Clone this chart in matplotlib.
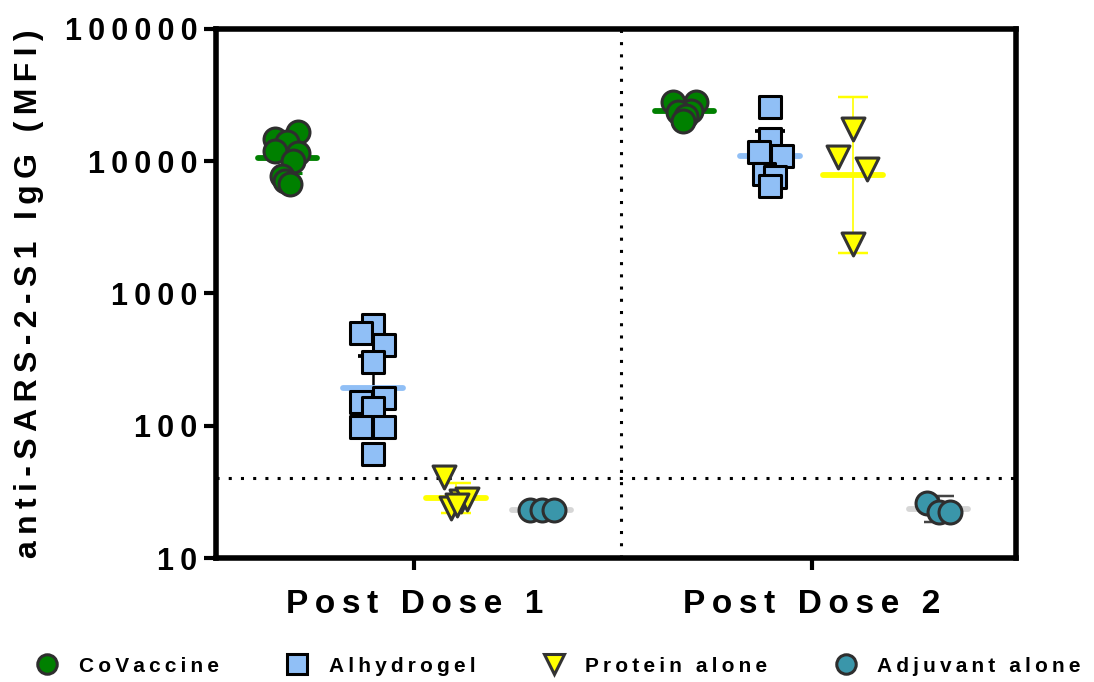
import numpy as np
import matplotlib
matplotlib.use('Agg')
import matplotlib.pyplot as plt
from matplotlib.lines import Line2D

# grupy i punkty czasowe
groups = ['CoVaccine', 'Alhydrogel', 'Protein alone', 'Adjuvant alone']
doses = ['Post Dose 1', 'Post Dose 2']
yticks = [10, 100, 1000, 10000, 100000]
lod = 40  # limit detekcji

# MFI dla poszczegolnych zwierzat
covaccine_d1 = [16600, 14700, 13900, 11900, 11500, 10000, 7700, 7050, 6700]
covaccine_d2 = [28000, 28000, 24000, 23500, 21900, 20000]
alhydrogel_d1 = [580, 505, 410, 305, 163, 152, 137, 98, 98, 61]
alhydrogel_d2 = [25600, 14700, 11700, 10900, 8000, 7570, 6470]
protein_d1 = [41, 24, 27, 28, 25]
protein_d2 = [17500, 10700, 8700, 2350]
adjuvant_d1 = [23, 23, 23]
adjuvant_d2 = [26, 22.3, 22.3]

data = {
    'CoVaccine': [covaccine_d1, covaccine_d2],
    'Alhydrogel': [alhydrogel_d1, alhydrogel_d2],
    'Protein alone': [protein_d1, protein_d2],
    'Adjuvant alone': [adjuvant_d1, adjuvant_d2],
}

# rozrzut punktow w poziomie (w pikselach), zeby sie nie nakladaly
jitter = {
    'CoVaccine': [[11, -12, 0, -12, 11, 6, -5, -2, 3], [-11, 12, 7, -6, 2, -1]],
    'Alhydrogel': [[0, -12, 11, 0, 11, -12, 0, -12, 11, 0], [0, 0, -11, 12, -6, 5, 0]],
    'Protein alone': [[-12, -5, 5, 11, 1], [0, -15, 14, 0]],
    'Adjuvant alone': [[-12, 0, 12], [-12, 0, 11]],
}
px = 397.0  # pikseli na jednostke osi x
group_shift = [-0.32, -0.105, 0.105, 0.32]

style = {
    'CoVaccine': dict(marker='o', fc='#008000', ec='#2e2e2e', mean='#008000', err='#008000', elw=1.5),
    'Alhydrogel': dict(marker='s', fc='#90bff6', ec='#000000', mean='#90bff6', err='#000000', elw=1.8),
    'Protein alone': dict(marker='v', fc='#ffff00', ec='#333333', mean='#ffff00', err='#ffff00', elw=1.2),
    'Adjuvant alone': dict(marker='o', fc='#3a96aa', ec='#2e2e2e', mean='#d6d6d6', err='#444444', elw=1.2),
}

T_CRIT = {1: 12.706, 2: 4.303, 3: 3.182, 4: 2.776, 5: 2.571, 6: 2.447,
          7: 2.365, 8: 2.306, 9: 2.262, 10: 2.228}


def srednia_geo(v):  # srednia geometryczna z 95% CI
    lv = np.log10(np.asarray(v, dtype=float))
    m = lv.mean()
    n = len(lv)
    h = T_CRIT[n - 1] * lv.std(ddof=1) / np.sqrt(n)
    return 10 ** m, 10 ** (m - h), 10 ** (m + h)


def rozstaw(s):  # rozstrzelony tekst
    return '\u2009'.join(s)


plt.rcParams['font.family'] = ['Liberation Sans', 'DejaVu Sans']
plt.rcParams['font.weight'] = 'bold'

fig = plt.figure(figsize=(10.94, 6.82), dpi=100)
ax = fig.add_axes([0.1974, 0.1818, 0.9287 - 0.1974, 0.9575 - 0.1818])

ms = 16.5
for gi, g in enumerate(groups):
    st = style[g]
    for di in range(len(doses)):
        vals = np.array(data[g][di], dtype=float)
        xc = di + group_shift[gi]
        xs = xc + np.array(jitter[g][di]) / px
        gm, lo, hi = srednia_geo(vals)
        ax.errorbar(xc, gm, yerr=[[gm - lo], [hi - gm]], fmt='none', ecolor=st['err'],
                    elinewidth=st['elw'], capsize=10.5, capthick=st['elw'] * 1.5, zorder=2)
        ax.plot([xc - 0.075, xc + 0.075], [gm, gm], color=st['mean'], lw=4.2,
                solid_capstyle='round', zorder=2.5)
        ax.scatter(xs, vals, s=ms ** 2, marker=st['marker'], facecolor=st['fc'],
                   edgecolor=st['ec'], linewidths=2.2, zorder=4)

# linie pomocnicze
ax.axhline(lod, color='black', lw=2.2, ls=(0, (1, 3)), zorder=1)
ax.axvline(0.52, color='black', lw=2.2, ls=(0, (1, 3)), zorder=1)

ax.set_yscale('log')
ax.set_ylim(10, 100000)
ax.set_xlim(-0.5, 1.515)
ax.yaxis.set_major_locator(matplotlib.ticker.FixedLocator(yticks))
ax.yaxis.set_minor_locator(matplotlib.ticker.NullLocator())
ax.set_yticklabels([rozstaw(str(t)) for t in yticks], fontsize=22, fontweight='bold')
ax.set_xticks([0, 1])
ax.set_xticklabels([rozstaw(d) for d in doses], fontsize=24, fontweight='bold')
ax.tick_params(axis='both', direction='out', length=8.5, width=3, color='black')
ax.tick_params(axis='y', pad=5)
ax.tick_params(axis='x', pad=14)
for sp in ax.spines.values():
    sp.set_linewidth(4)
    sp.set_color('black')

ax.set_ylabel(rozstaw('anti-SARS-2-S1 IgG (MFI)'), fontsize=23, fontweight='bold', labelpad=15)

# legenda
handles = [Line2D([], [], ls='none', marker=style[g]['marker'], markersize=14,
                  markerfacecolor=style[g]['fc'], markeredgecolor=style[g]['ec'],
                  markeredgewidth=2.2) for g in groups]
fig.legend(handles, [rozstaw(g) for g in groups], loc='center left',
           bbox_to_anchor=(37 / 1094, 16 / 682), ncol=4, frameon=False,
           prop={'size': 15, 'weight': 'bold'}, handlelength=1.0, handletextpad=1.02,
           columnspacing=3.25, borderpad=0, borderaxespad=0)

fig.savefig('out.png', dpi=100)
